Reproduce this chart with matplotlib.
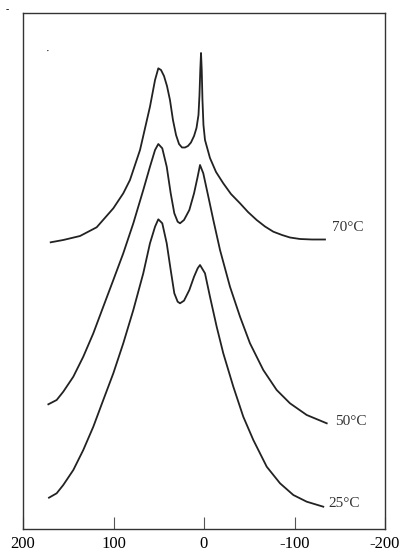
import matplotlib.pyplot as plt

# shift axis (reversed) and intensity (arbitrary units, stacked)
x70 = [169.4, 155.5, 137.0, 118.6, 100.2, 89.2, 81.8, 70.7, 59.7, 54.1, 50.5, 47.5,
       44.2, 40.9, 37.6, 34.3, 30.9, 27.6, 24.3, 21.0, 17.7, 14.4, 11.0, 8.3, 6.1,
       5.0, 4.1, 3.3, 2.5, 1.7, 0.6, -1.1, -6.6, -13.3, -21.3, -29.8, -39.8, -48.6,
       -58.2, -67.4, -76.6, -86.2, -95.0, -106.1, -119.3, -133.7]
y70 = [286.7, 289, 293, 301.7, 320.7, 335.7, 349, 379, 422.3, 449, 460.7, 459,
       453, 443, 429, 409, 394, 385, 381.5, 381.5, 383, 386.5, 393, 401, 414,
       434, 459, 476, 459, 429, 404, 389, 371, 357, 345.7, 335, 325.7, 317,
       309, 302.5, 297.3, 294, 291.5, 290, 289.5, 289.5]

x50 = [172.0, 162.8, 155.5, 144.4, 133.4, 122.3, 111.3, 100.2, 89.2, 78.1, 67.1,
       59.7, 54.1, 50.5, 46.1, 41.2, 36.8, 32.8, 29.1, 26.5, 22.1, 16.2, 11.0, 7.0,
       4.4, 0.8, -4.8, -10.3, -17.7, -28.7, -39.8, -50.8, -65.5, -80.3, -95.0,
       -113.5, -135.6]
y50 = [124.7, 129, 137.3, 152.3, 172.3, 195.7, 222.3, 249, 275.7, 305.7, 339,
       362.3, 379, 385, 380.7, 362.3, 335.7, 315.7, 307.3, 305.7, 309, 319, 335.7, 352.3,
       364, 355.7, 332.3, 309, 279, 242.3, 212.3, 185.7, 159, 139, 125.7,
       114, 105.7]

x25 = [171.3, 162.8, 155.5, 144.4, 133.4, 122.3, 111.3, 100.2, 89.2, 78.1, 67.1,
       59.7, 54.1, 50.5, 46.1, 41.2, 36.8, 32.8, 29.1, 26.5, 22.1, 16.2, 11.0, 7.0,
       4.4, -1.1, -6.6, -14.0, -21.3, -32.4, -43.4, -54.5, -69.3, -84.0, -98.7,
       -113.5, -131.8]
y25 = [31.3, 35.7, 44, 59, 79, 102.3, 129, 155.7, 185.7, 219, 255.7,
       285.7, 302.3, 309.7, 305.7, 285.7, 259, 235.7, 227.3, 225.7, 228.3, 239, 252.3, 260.7,
       264, 255.7, 232.3, 202.3, 175.7, 142.3, 112.3, 89, 62.3, 45.7, 34,
       27.3, 22.3]

labels = ['70°C', '50°C', '25°C']
ticks = [200, 100, 0, -100, -200]

plt.rcParams['font.family'] = ['Liberation Serif', 'DejaVu Serif']

fig = plt.figure(figsize=(4.03, 5.51), dpi=100)
ax = fig.add_axes([23/403, 22/551, 362/403, 516/551])

# label offsets from the end of each trace, in pixels
offs = [(7, 12), (8, 2), (5, 3)]
for xs, ys, lab, off in zip([x70, x50, x25], [y70, y50, y25], labels, offs):
    ax.plot(xs, ys, color='#222222', lw=1.3, solid_joinstyle='round')
    ax.annotate(lab, (xs[-1], ys[-1]), xytext=off, textcoords='offset pixels',
                fontsize=11, color='#333333', ha='left', va='center')

ax.set_xlim(200, -200)
ax.set_ylim(0, 516)
ax.set_xticks(ticks)
ax.set_xticklabels([str(t) for t in ticks], fontsize=12)
ax.set_yticks([])
ax.tick_params(axis='x', direction='in', length=9, width=0.8, color='#555555', pad=5)
for s in ax.spines.values():
    s.set_color('#333333')
    s.set_linewidth(1.0)

# small stray marks seen in the original scan
fig.text(7/403, 1 - 10/551, '-', fontsize=7, ha='center', va='center')
fig.text(48/403, 1 - 51/551, '·', fontsize=8, ha='center', va='center')

fig.savefig('out.png', dpi=100)
